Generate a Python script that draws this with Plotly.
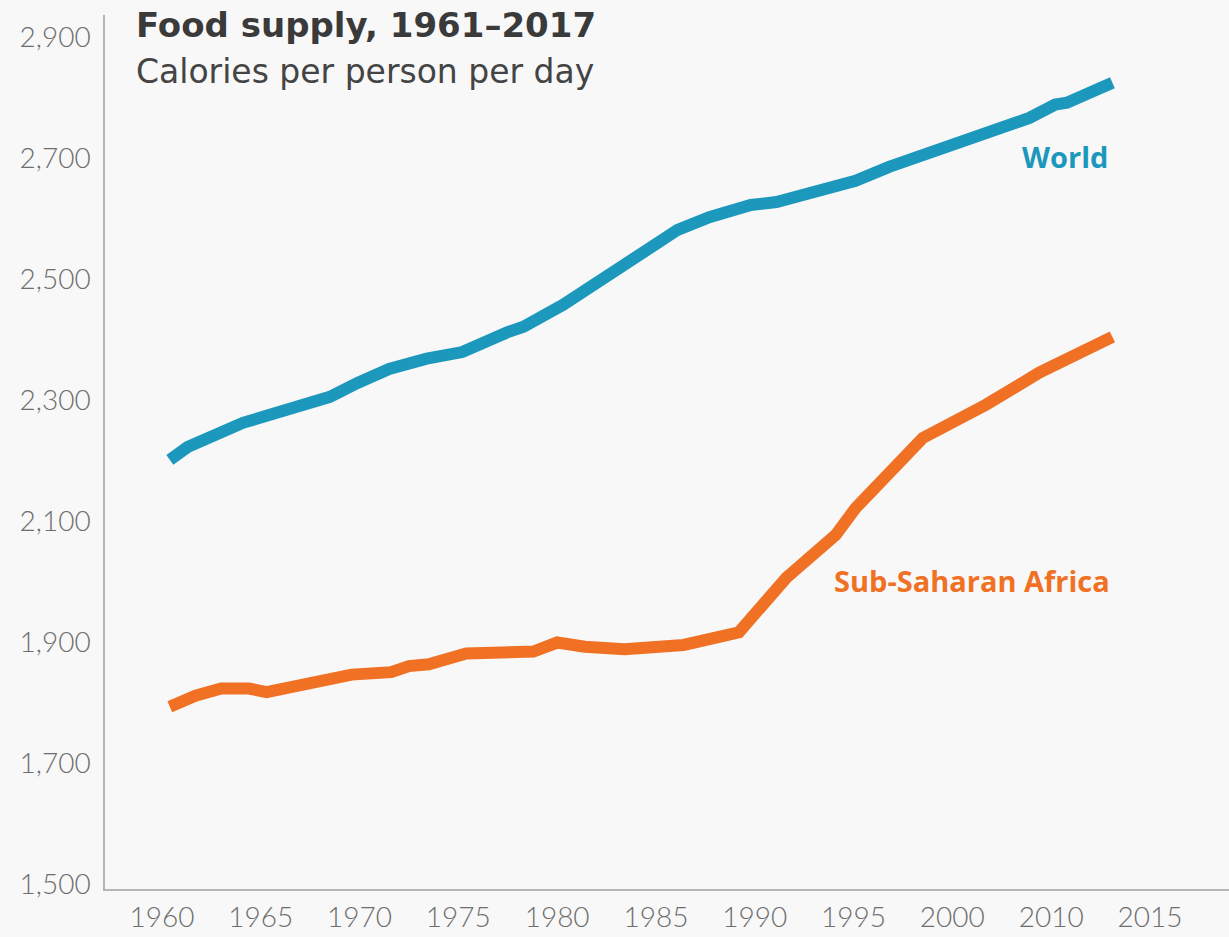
import plotly.graph_objects as go

# Axis positions (in the chart's own axis units) and values
world_x = [1960.4, 1961.3, 1964.1, 1966.6, 1968.5, 1969.9, 1971.5, 1973.4, 1975.2,
           1977.5, 1978.3, 1980.3, 1982.2, 1983.8, 1984.3, 1986.1, 1987.7, 1989.8,
           1991.1, 1992.9, 1995.1, 1996.8, 1999.0, 2001.0, 2003.1, 2003.9, 2005.2,
           2005.8, 2008.1]
world_y = [2201, 2222, 2262, 2288, 2305, 2328, 2351, 2368, 2379,
           2412, 2421, 2457, 2498, 2536, 2548, 2581, 2602, 2622,
           2627, 2645, 2662, 2685, 2710, 2733, 2758, 2766, 2788,
           2791, 2824]

ssa_x = [1960.4, 1961.7, 1963.0, 1964.4, 1965.3, 1967.1, 1969.6, 1971.6, 1972.5,
         1973.5, 1975.4, 1978.8, 1980.0, 1981.4, 1983.4, 1986.4, 1989.2, 1991.6,
         1994.1, 1995.1, 1998.5, 2001.7, 2004.4, 2008.1]
ssa_y = [1793, 1811, 1823, 1823, 1817, 1828, 1846, 1850, 1860,
         1863, 1881, 1884, 1899, 1892, 1888, 1895, 1916, 2006,
         2077, 2121, 2237, 2292, 2345, 2404]

x_tickvals = [1960, 1965, 1970, 1975, 1980, 1985, 1990, 1995, 2000, 2005, 2010]
x_ticktext = ["1960", "1965", "1970", "1975", "1980", "1985", "1990", "1995",
              "2000", "2010", "2015"]
y_tickvals = [1500, 1700, 1900, 2100, 2300, 2500, 2700, 2900]
y_ticktext = ["1,500", "1,700", "1,900", "2,100", "2,300", "2,500", "2,700", "2,900"]

BLUE = "#1c98bd"
ORANGE = "#f07124"
BG = "#f8f8f8"
TICKFONT = dict(size=28, color="#6e6e6e", family="Lato", weight=300)

fig = go.Figure()
fig.add_trace(go.Scatter(x=world_x, y=world_y, mode="lines",
                         line=dict(color=BLUE, width=12), hoverinfo="skip"))
fig.add_trace(go.Scatter(x=ssa_x, y=ssa_y, mode="lines",
                         line=dict(color=ORANGE, width=12), hoverinfo="skip"))

fig.update_layout(
    width=1229, height=937,
    paper_bgcolor=BG, plot_bgcolor=BG,
    margin=dict(l=105, r=0, t=15, b=48),
    showlegend=False,
    font=dict(family="Lato", color="#666666"),
    xaxis=dict(range=[1957.12, 2014.0], tickvals=x_tickvals, ticktext=x_ticktext,
               showgrid=False, zeroline=False, showline=True, linecolor="#b5b5b5",
               linewidth=1.5, ticks="outside", ticklen=3, tickcolor=BG,
               tickfont=TICKFONT),
    yaxis=dict(range=[1491.7, 2936], tickvals=y_tickvals, ticktext=y_ticktext,
               showgrid=False, zeroline=False, showline=True, linecolor="#b5b5b5",
               linewidth=1.5, ticks="outside", ticklen=7, tickcolor=BG,
               tickfont=TICKFONT),
    annotations=[
        dict(text="<b>Food supply, 1961–2017</b>", xref="paper", yref="paper",
             x=0.0258, y=0.9886, xanchor="left", yanchor="middle", showarrow=False,
             font=dict(size=34, color="#3a3a3a", family="DejaVu Sans")),
        dict(text="Calories per person per day", xref="paper", yref="paper",
             x=0.0258, y=0.9348, xanchor="left", yanchor="middle", showarrow=False,
             font=dict(size=33, color="#444444", family="DejaVu Sans")),
        dict(text="<b>World</b>", xref="x", yref="y", x=2008.0, y=2702,
             xanchor="right", yanchor="middle", showarrow=False,
             font=dict(size=29, color=BLUE, family="Open Sans")),
        dict(text="<b>Sub-Saharan Africa</b>", xref="x", yref="y", x=2008.1, y=2002,
             xanchor="right", yanchor="middle", showarrow=False,
             font=dict(size=29, color=ORANGE, family="Open Sans")),
    ],
)

fig.write_html(
    "out.html",
    config={"displayModeBar": False},
    post_script="document.body.style.margin='0';document.body.style.background='#f8f8f8';",
)
